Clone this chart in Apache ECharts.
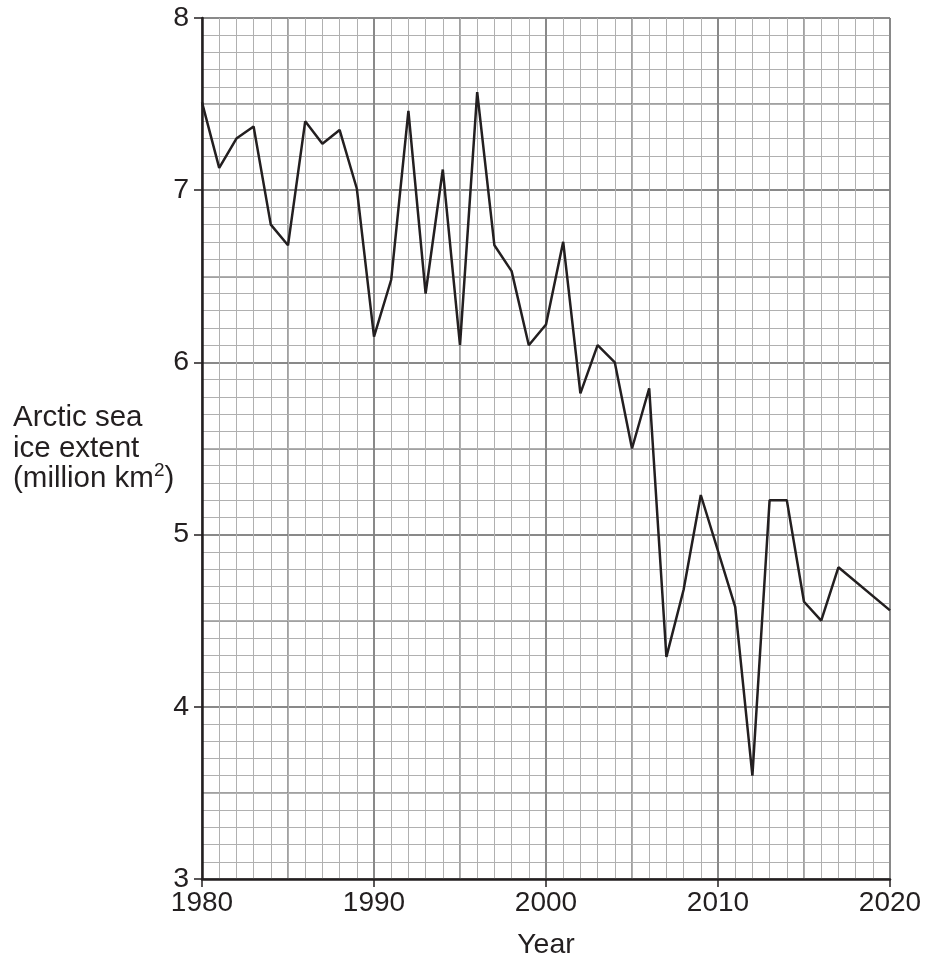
<!DOCTYPE html>
<html>
<head>
<meta charset="utf-8">
<script src="https://cdn.jsdelivr.net/npm/echarts@6/dist/echarts.min.js"></script>
<style>
html,body{margin:0;padding:0;background:#fff;}
#chart{width:925px;height:960px;}
</style>
</head>
<body>
<div id="chart"></div>
<script>
// Data
var years = [1980,1981,1982,1983,1984,1985,1986,1987,1988,1989,
             1990,1991,1992,1993,1994,1995,1996,1997,1998,1999,
             2000,2001,2002,2003,2004,2005,2006,2007,2008,2009,
             2011,2012,2013,2014,2015,2016,2017,2020];
var extent = [7.51,7.13,7.30,7.37,6.80,6.68,7.40,7.27,7.35,7.01,
              6.15,6.48,7.46,6.40,7.12,6.10,7.57,6.68,6.53,6.10,
              6.22,6.70,5.82,6.10,6.00,5.50,5.85,4.29,4.68,5.23,
              4.58,3.60,5.20,5.20,4.61,4.50,4.81,4.56];
var xTickLabels = ['1980','1990','2000','2010','2020'];
var yTickLabels = ['3','4','5','6','7','8'];

var seriesData = years.map(function (y, i) { return [y, extent[i]]; });

var textColor = '#231f20';
var fontFam = '"Liberation Sans", Arial, sans-serif';
var minorColor = '#b0b0b0';
var majorColor = '#828282';

var chart = echarts.init(document.getElementById('chart'), null, {renderer: 'canvas'});
chart.setOption({
  animation: false,
  backgroundColor: '#fff',
  grid: {left: 202, right: 35, top: 18, bottom: 81, containLabel: false, outerBoundsMode: 'none'},
  xAxis: [{
    type: 'value', min: 1980, max: 2020, interval: 10,
    name: 'Year', nameLocation: 'middle', nameGap: 52,
    nameTextStyle: {fontSize: 28.5, color: textColor, fontFamily: fontFam},
    axisLine: {show: true, onZero: false, lineStyle: {color: textColor, width: 2.5}},
    axisTick: {show: true, length: 8, lineStyle: {color: textColor, width: 1.5}},
    axisLabel: {
      fontSize: 28, color: textColor, fontFamily: fontFam, margin: 10,
      formatter: function (v) { var s = String(v); return xTickLabels.indexOf(s) >= 0 ? s : ''; }
    },
    minorTick: {show: false, splitNumber: 10},
    splitLine: {show: true, lineStyle: {color: majorColor, width: 1.5}},
    minorSplitLine: {show: true, lineStyle: {color: minorColor, width: 1}},
    z: 5
  }, {
    type: 'value', min: 1980, max: 2020, interval: 5, position: 'bottom',
    axisLine: {show: false}, axisTick: {show: false}, axisLabel: {show: false},
    splitLine: {show: true, lineStyle: {color: majorColor, width: 1.5}}
  }],
  yAxis: [{
    type: 'value', min: 3, max: 8, interval: 1,
    axisLine: {show: true, onZero: false, lineStyle: {color: textColor, width: 2.5}},
    axisTick: {show: true, length: 8, lineStyle: {color: textColor, width: 1.5}},
    axisLabel: {
      fontSize: 28.5, color: textColor, fontFamily: fontFam, margin: 13,
      formatter: function (v) { var s = String(v); return yTickLabels.indexOf(s) >= 0 ? s : ''; }
    },
    minorTick: {show: false, splitNumber: 10},
    splitLine: {show: true, lineStyle: {color: majorColor, width: 1.5}},
    minorSplitLine: {show: true, lineStyle: {color: minorColor, width: 1}},
    z: 5
  }, {
    type: 'value', min: 3, max: 8, interval: 0.5, position: 'left',
    axisLine: {show: false}, axisTick: {show: false}, axisLabel: {show: false},
    splitLine: {show: true, lineStyle: {color: majorColor, width: 1.5}}
  }],
  graphic: [{
    type: 'text', left: 13, top: 403, z: 10,
    style: {
      text: '{a|Arctic sea}\n{a|ice extent}\n{a|(million km}{s|2}{a|)}',
      fill: textColor,
      rich: {
        a: {fontSize: 29.5, lineHeight: 30.5, fontFamily: fontFam, color: textColor},
        s: {fontSize: 19, lineHeight: 30.5, fontFamily: fontFam, color: textColor, padding: [0, 0, 16, 0]}
      }
    }
  }],
  series: [{
    type: 'line', xAxisIndex: 0, yAxisIndex: 0,
    data: seriesData, showSymbol: false, symbol: 'none',
    lineStyle: {color: textColor, width: 2.5},
    z: 10
  }]
});
</script>
</body>
</html>
